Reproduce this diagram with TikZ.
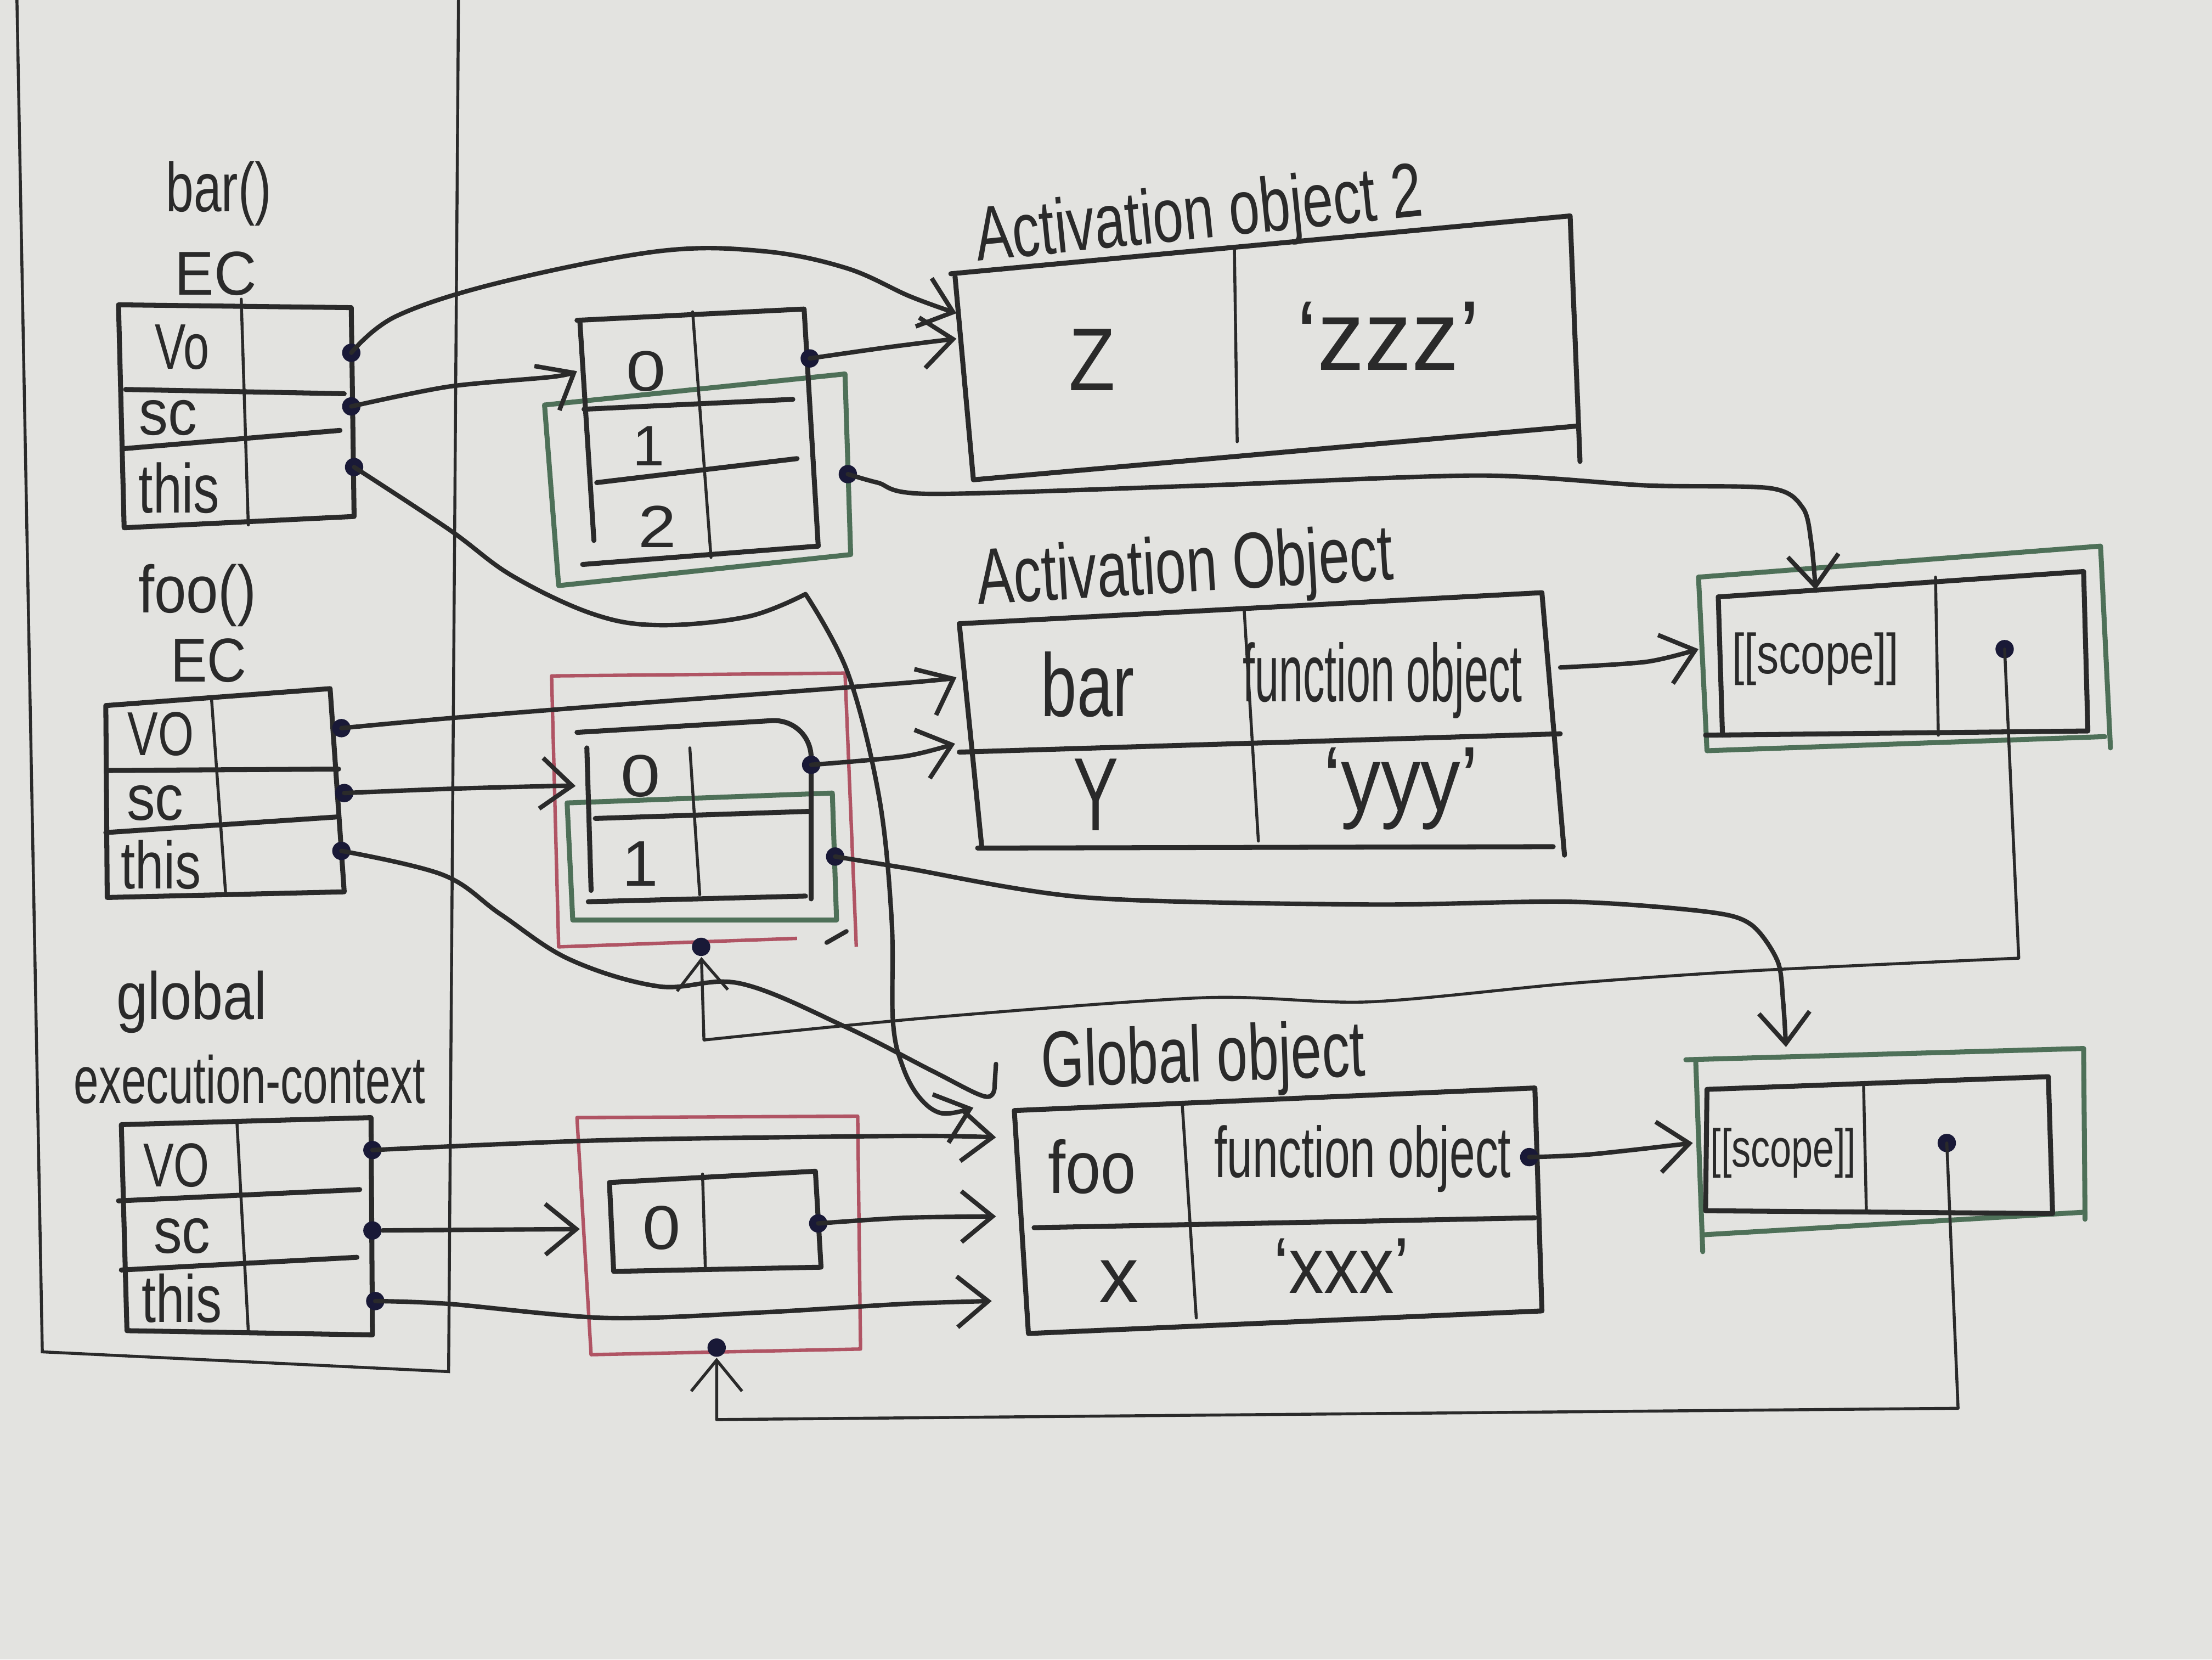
\documentclass[tikz,border=0pt]{standalone}
\usepackage{fontspec}
\setmainfont{Liberation Sans}
\usepackage{graphicx}
\usetikzlibrary{arrows.meta}
\definecolor{bg}{RGB}{227,227,224}
\definecolor{inkc}{RGB}{42,42,42}
\definecolor{grn}{RGB}{78,112,88}
\definecolor{rd}{RGB}{176,84,100}
\definecolor{dotc}{RGB}{25,25,55}
\newcommand\hw[3]{{\fontsize{#1}{#1}\selectfont\scalebox{#2}[1]{#3}}}
\begin{document}
\begin{tikzpicture}[x=0.1mm,y=-0.1mm,
 ink/.style={draw=inkc,line width=1pt,line join=round,line cap=round},
 thinln/.style={draw=inkc,line width=0.6pt,line cap=round},
 gbox/.style={draw=grn,line width=1pt,line join=round,line cap=round},
 rbox/.style={draw=rd,line width=0.7pt,line join=round},
 conn/.style={draw=inkc,line width=0.9pt,line cap=round,line join=round},
 sconn/.style={draw=inkc,line width=0.6pt,line cap=round,line join=round},
 barb/.style={-{Straight Barb[length=2.2mm,width=3.6mm]}},
 txt/.style={inner sep=0pt,text=inkc},
 blob/.style={circle,fill=dotc,inner sep=0pt,minimum size=1.3mm}
]
\fill[bg] (0,0) rectangle (1568,1176);
\useasboundingbox (0,0) rectangle (1568,1176);

% ---------- stack container ----------
\draw[thinln] (12,0) -- (30,958) -- (318,972) -- (325,0);

% ---------- bar() EC ----------
\node[txt] (lbar) at (155,137) {\hw{14}{0.72}{bar()}};
\node[txt] (lbarec) at (153,194) {\hw{12.5}{0.95}{EC}};
\draw[ink] (84,216) -- (249,218) -- (251,366) -- (88,374) -- cycle;
\draw[ink] (89,276) -- (244,279);
\draw[ink] (87,318) -- (241,305);
\draw[thinln] (171,212) -- (176,372);
\node[txt] (bvo) at (129,246) {\hw{13}{0.72}{Vo}};
\node[txt] (bsc) at (119,296) {\hw{13}{0.9}{sc}};
\node[txt] (bth) at (127,346) {\hw{14}{0.75}{this}};
\node[blob] (barVO) at (249,250) {};
\node[blob] (barSC) at (249,288) {};
\node[blob] (barTH) at (251,331) {};

% ---------- foo() EC ----------
\node[txt] (lfoo) at (140,422) {\hw{13.5}{0.86}{foo()}};
\node[txt] (lfooec) at (148,468) {\hw{12.5}{0.88}{EC}};
\draw[ink] (75,500) -- (234,488) -- (244,632) -- (76,636) -- cycle;
\draw[ink] (77,546) -- (240,545);
\draw[ink] (75,590) -- (238,579);
\draw[thinln] (150,496) -- (160,634);
\node[txt] (fvo) at (114,520) {\hw{12.5}{0.74}{VO}};
\node[txt] (fsc) at (110,569) {\hw{13}{0.88}{sc}};
\node[txt] (fth) at (114,613) {\hw{13.5}{0.77}{this}};
\node[blob] (fooVO) at (242,516) {};
\node[blob] (fooSC) at (244,562) {};
\node[blob] (fooTH) at (242,603) {};

% ---------- global EC ----------
\node[txt] (lglob) at (136,710) {\hw{13.5}{0.84}{global}};
\node[txt] (lexec) at (177,765) {\hw{13.5}{0.67}{execution-context}};
\draw[ink] (86,797) -- (263,792) -- (264,946) -- (90,943) -- cycle;
\draw[ink] (84,851) -- (255,843);
\draw[ink] (86,900) -- (253,891);
\draw[thinln] (168,796) -- (176,943);
\node[txt] (gvo) at (125,826) {\hw{12.5}{0.74}{VO}};
\node[txt] (gsc) at (129,876) {\hw{13}{0.88}{sc}};
\node[txt] (gth) at (129,920) {\hw{13.5}{0.77}{this}};
\node[blob] (gVO) at (264,815) {};
\node[blob] (gSC) at (264,872) {};
\node[blob] (gTH) at (266,922) {};

% ---------- bar scope chain ----------
\draw[gbox] (386,287) -- (599,265) -- (603,393) -- (396,415) -- cycle;
\draw[ink] (409,227) -- (570,219) -- (580,387);
\draw[ink] (411,227) -- (421,383);
\draw[ink] (413,400) -- (580,387);
\draw[ink] (414,290) -- (562,283);
\draw[ink] (423,342) -- (565,325);
\draw[thinln] (491,221) -- (504,395);
\node[txt] (bc0t) at (458,263) {\hw{11.5}{1.25}{0}};
\node[txt] (bc1t) at (460,316) {\hw{11.5}{1}{1}};
\node[txt] (bc2t) at (466,373) {\hw{12}{1.15}{2}};
\node[blob] (bc0) at (574,254) {};
\node[blob] (bcg) at (601,336) {};

% ---------- foo scope chain ----------
\draw[rbox] (565,665) -- (396,671) -- (391,479) -- (599,477) -- (607,671);
\draw[gbox] (402,569) -- (590,562) -- (593,652) -- (406,652) -- cycle;
\draw[ink,rounded corners=8pt] (409,519) -- (575,509) -- (575,637);
\draw[ink] (416,530) -- (419,631);
\draw[thinln] (489,530) -- (496,634);
\draw[ink] (422,580) -- (573,575);
\draw[ink] (417,639) -- (571,635);
\draw[conn] (586,668) -- (600,660);
\node[txt] (fc0t) at (454,550) {\hw{12}{1.2}{0}};
\node[txt] (fc1t) at (454,612) {\hw{13}{1}{1}};
\node[blob] (fc0) at (575,542) {};
\node[blob] (fcg) at (592,607) {};
\node[blob] (fcbot) at (497,671) {};

% ---------- global scope chain ----------
\draw[rbox] (409,792) -- (608,791) -- (610,956) -- (419,960) -- cycle;
\draw[ink] (432,838) -- (578,830) -- (582,898) -- (435,901) -- cycle;
\draw[thinln] (498,832) -- (500,899);
\node[txt] (gc0t) at (469,870) {\hw{12.5}{1.1}{0}};
\node[blob] (gc0) at (580,867) {};
\node[blob] (gcbot) at (508,955) {};

% ---------- Activation object 2 ----------
\node[txt,rotate=5.8] (lao2) at (850,155) {\hw{15.5}{0.72}{Activation object 2}};
\draw[ink] (674,194) -- (1113,153) -- (1120,327);
\draw[ink] (677,196) -- (690,340) -- (1117,302);
\draw[thinln] (875,175) -- (877,313);
\node[txt] (ao2k) at (774,255) {\hw{18}{0.85}{Z}};
\node[txt] (ao2v) at (984,238) {\hw{20}{0.95}{‘zzz’}};

% ---------- Activation Object ----------
\node[txt,rotate=3.5] (lao) at (840,405) {\hw{16}{0.7}{Activation Object}};
\draw[ink] (680,442) -- (1093,420) -- (1109,606);
\draw[ink] (680,442) -- (696,601);
\draw[ink] (693,601) -- (1101,600);
\draw[ink] (680,533) -- (1106,520);
\draw[thinln] (882,433) -- (892,596);
\node[txt] (aok1) at (771,485) {\hw{18}{0.72}{bar}};
\node[txt] (aov1) at (980,482) {\hw{16.5}{0.53}{function object}};
\node[txt] (aok2) at (777,563) {\hw{21}{0.65}{Y}};
\node[txt] (aov2) at (993,559) {\hw{18.5}{0.87}{‘yyy’}};

% ---------- Global object ----------
\node[txt,rotate=2] (lgo) at (853,752) {\hw{16}{0.7}{Global object}};
\draw[ink] (719,787) -- (1088,771) -- (1093,929) -- (729,945) -- cycle;
\draw[ink] (733,870) -- (1088,863);
\draw[thinln] (838,782) -- (848,934);
\node[txt] (gok1) at (774,827) {\hw{15}{0.85}{foo}};
\node[txt] (gov1) at (966,821) {\hw{14.5}{0.64}{function object}};
\node[txt] (gok2) at (793,908) {\hw{16}{1.0}{x}};
\node[txt] (gov2) at (951,897) {\hw{16}{0.88}{‘xxx’}};
\node[blob] (godot) at (1084,820) {};

% ---------- [[scope]] 1 ----------
\draw[gbox] (1204,409) -- (1489,387) -- (1496,530);
\draw[gbox] (1204,409) -- (1210,532) -- (1492,522);
\draw[ink] (1218,423) -- (1477,405) -- (1480,518) -- (1209,521);
\draw[ink] (1218,423) -- (1221,521);
\draw[thinln] (1372,409) -- (1374,521);
\node[txt] (s1t) at (1287,467) {\hw{11.4}{0.78}{[[scope]]}};
\node[blob] (s1) at (1421,460) {};

% ---------- [[scope]] 2 ----------
\draw[gbox] (1195,751) -- (1477,743) -- (1478,864);
\draw[gbox] (1202,751) -- (1207,887);
\draw[gbox] (1208,875) -- (1478,859);
\draw[ink] (1210,772) -- (1452,763) -- (1455,860) -- (1209,858) -- cycle;
\draw[thinln] (1321,768) -- (1323,859);
\node[txt] (s2t) at (1264,817) {\hw{10.8}{0.72}{[[scope]]}};
\node[blob] (s2) at (1380,810) {};

% ---------- connector end points ----------
\coordinate (ao2a) at (678,222);
\coordinate (ao2b) at (678,240);
\coordinate (bcin) at (409,263);
\coordinate (aoa) at (678,480);
\coordinate (aob) at (677,527);
\coordinate (fcin) at (408,557);
\coordinate (gcin) at (411,871);
\coordinate (goa) at (690,785);
\coordinate (gob) at (706,754);
\coordinate (goc) at (706,806);
\coordinate (god) at (706,862);
\coordinate (goe) at (703,922);
\coordinate (aor) at (1106,473);
\coordinate (s1left) at (1204,460);
\coordinate (s1top) at (1287,418);
\coordinate (s2left) at (1200,810);
\coordinate (s2top) at (1266,742);

% ---------- connectors ----------
% bar EC
\draw[conn,barb] plot[smooth,tension=0.6] coordinates {(barVO) (281,224) (355,200) (467,178) (541,178) (600,190) (645,210) (ao2a)};
\draw[conn,barb] plot[smooth] coordinates {(barSC) (318,274) (392,267) (bcin)};
\draw[conn,barb] plot[smooth,tension=0.6] coordinates {(barTH) (318,375) (363,408) (420,435) (467,443) (530,437) (571,421)}
  -- plot[smooth,tension=0.6] coordinates {(571,421) (601,477) (623,564) (632,651) (633,724) (640,756) (652,778) (668,789) (goa)};
% bar scope chain
\draw[conn,barb] plot[smooth] coordinates {(bc0) (630,246) (ao2b)};
\draw[conn,barb] plot[smooth,tension=0.5] coordinates {(bcg) (622,342) (660,350) (855,344) (1048,337) (1167,344) (1255,346) (1278,360) (1284,385) (s1top)};
% foo EC
\draw[conn,barb] plot[smooth] coordinates {(fooVO) (318,509) (430,500) (641,484) (aoa)};
\draw[conn,barb] plot[smooth] coordinates {(fooSC) (318,559) (392,557) (fcin)};
\draw[conn] plot[smooth,tension=0.6] coordinates {(fooTH) (314,620) (355,648) (404,680) (467,699) (525,697) (600,728) (661,759) (698,777) (705,770)} -- (gob);
% foo scope chain
\draw[conn,barb] plot[smooth] coordinates {(fc0) (641,536) (aob)};
\draw[conn,barb] plot[smooth,tension=0.5] coordinates {(fcg) (641,615) (770,636) (970,641) (1112,639) (1209,646) (1241,655) (1260,681) (1264,710) (s2top)};
% global EC
\draw[conn,barb] plot[smooth] coordinates {(gVO) (430,808) (641,805) (goc)};
\draw[conn,barb] (gSC) -- (gcin);
\draw[conn,barb] plot[smooth] coordinates {(gTH) (318,924) (430,934) (541,930) (641,924) (goe)};
\draw[conn,barb] plot[smooth] coordinates {(gc0) (641,863) (god)};
% objects to [[scope]]
\draw[conn,barb] plot[smooth] coordinates {(aor) (1167,469) (s1left)};
\draw[conn,barb] plot[smooth] coordinates {(godot) (1128,818) (s2left)};
% [[scope]] back to scope chains
\draw[sconn,barb] (s1.center) -- (1431,679) -- plot[smooth,tension=0.5] coordinates {(1431,679) (1241,688) (1112,697) (970,710) (854,707) (661,721) (499,737)} -- (fcbot);
\draw[sconn,barb] (s2.center) -- (1388,998) -- (508,1006) -- (gcbot);
\end{tikzpicture}
\end{document}
